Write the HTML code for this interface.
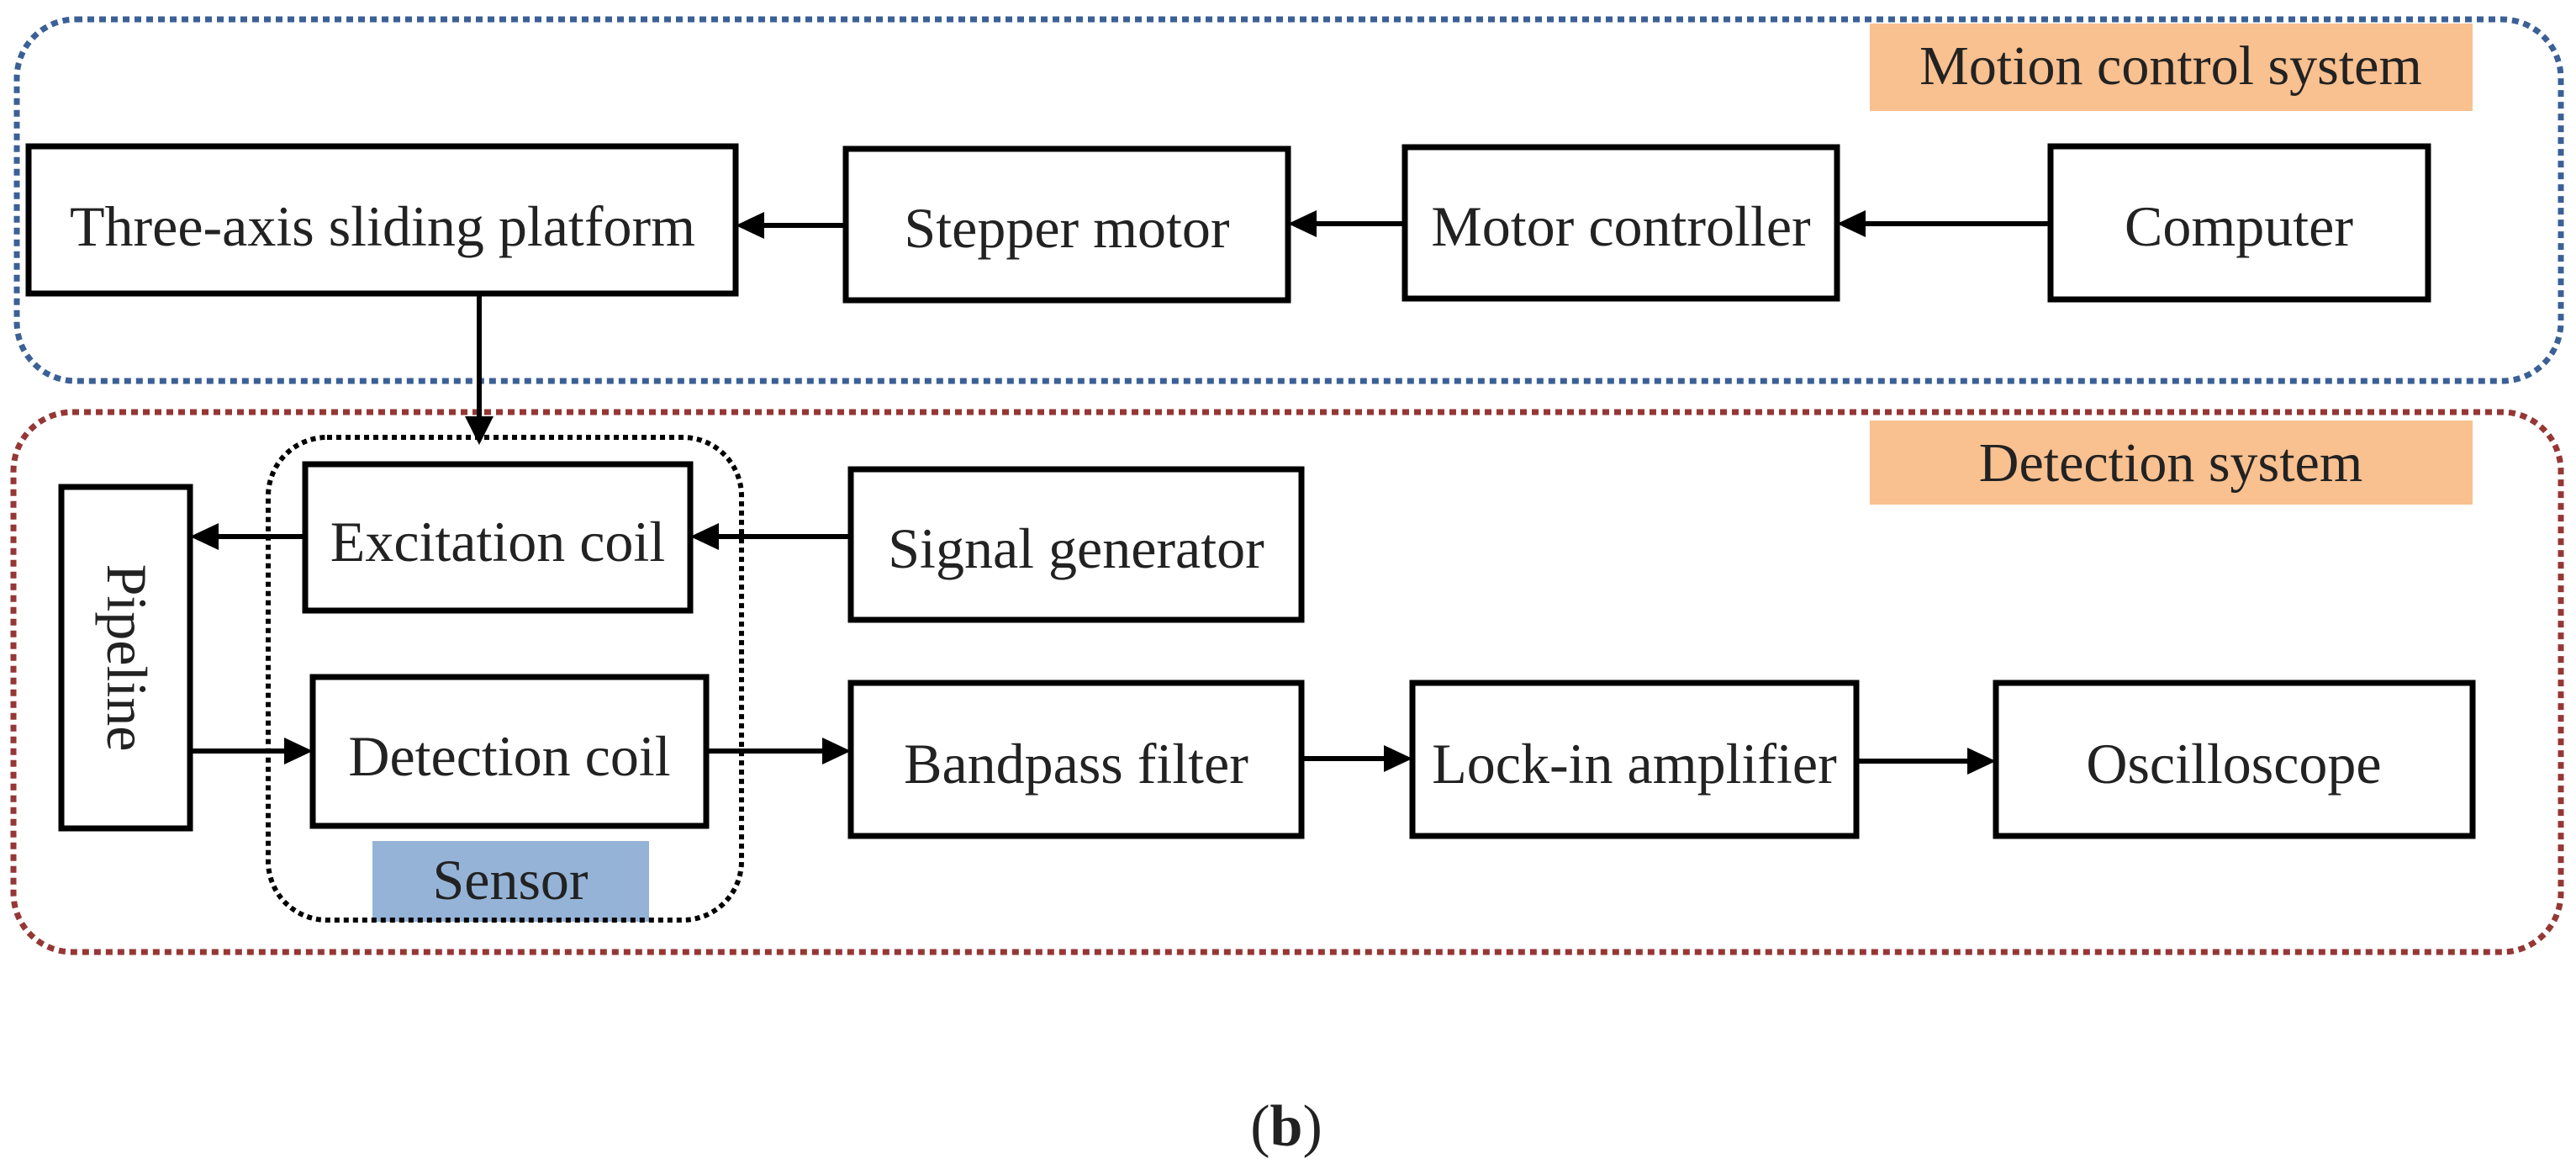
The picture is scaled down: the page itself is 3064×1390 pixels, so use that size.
<!DOCTYPE html>
<html><head><meta charset="utf-8"><style>
html,body{margin:0;padding:0;background:#fff}
svg{display:block}
text{font-family:"Liberation Serif",serif;fill:#222}
</style></head><body>
<svg width="3064" height="1390" viewBox="0 0 3064 1390" xmlns="http://www.w3.org/2000/svg">
<!-- group frames -->
<rect x="20" y="23" width="3026" height="430" rx="70" fill="none" stroke="#3b6096" stroke-width="7" stroke-dasharray="8 6"/>
<rect x="16" y="490" width="3030" height="642" rx="70" fill="none" stroke="#953735" stroke-width="7" stroke-dasharray="8 6"/>
<rect x="2224" y="28" width="717" height="104" fill="#f9c090"/>
<text x="2582" y="100" font-size="66" text-anchor="middle">Motion control system</text>
<rect x="2224" y="500" width="717" height="100" fill="#f9c090"/>
<text x="2582" y="572" font-size="66" text-anchor="middle">Detection system</text>

<g fill="none" stroke="#000" stroke-width="7">
<rect x="34" y="174" width="841" height="175"/>
<rect x="1006" y="177" width="526" height="180"/>
<rect x="1671" y="175" width="514" height="180"/>
<rect x="2439" y="174" width="449" height="182"/>
<rect x="363" y="552" width="458" height="174"/>
<rect x="1012" y="558" width="536" height="179"/>
<rect x="73" y="579" width="153" height="406"/>
<rect x="372" y="805" width="468" height="177"/>
<rect x="1012" y="812" width="536" height="182"/>
<rect x="1680" y="812" width="528" height="182"/>
<rect x="2374" y="812" width="567" height="182"/>
</g>
<rect x="443" y="1000" width="329" height="96" fill="#95b3d7"/>
<rect x="319" y="520" width="563" height="574" rx="70" fill="none" stroke="#000" stroke-width="6" stroke-dasharray="6 5"/>

<g stroke="#000" stroke-width="6" fill="none">
<line x1="1006" y1="268" x2="890" y2="268"/>
<path d="M875,268 l34,-16 v32 z" fill="#000" stroke="none"/>
<line x1="1671" y1="266" x2="1545" y2="266"/>
<path d="M1532,266 l34,-16 v32 z" fill="#000" stroke="none"/>
<line x1="2439" y1="266" x2="2200" y2="266"/>
<path d="M2185,266 l34,-16 v32 z" fill="#000" stroke="none"/>
<line x1="570" y1="349" x2="570" y2="500"/>
<path d="M570,529 l-17,-34 h34 z" fill="#000" stroke="none"/>
<line x1="363" y1="638" x2="240" y2="638"/>
<path d="M226,638 l34,-16 v32 z" fill="#000" stroke="none"/>
<line x1="1012" y1="638" x2="835" y2="638"/>
<path d="M821,638 l34,-16 v32 z" fill="#000" stroke="none"/>
<line x1="226" y1="893" x2="345" y2="893"/>
<path d="M372,893 l-34,-16 v32 z" fill="#000" stroke="none"/>
<line x1="840" y1="893" x2="990" y2="893"/>
<path d="M1012,893 l-34,-16 v32 z" fill="#000" stroke="none"/>
<line x1="1548" y1="902" x2="1655" y2="902"/>
<path d="M1680,902 l-34,-16 v32 z" fill="#000" stroke="none"/>
<line x1="2208" y1="905" x2="2350" y2="905"/>
<path d="M2374,905 l-34,-16 v32 z" fill="#000" stroke="none"/>
</g>

<g font-size="68" text-anchor="middle">
<text x="455" y="292">Three-axis sliding platform</text>
<text x="1269" y="294">Stepper motor</text>
<text x="1928" y="292">Motor controller</text>
<text x="2663" y="292">Computer</text>
<text x="592" y="667">Excitation coil</text>
<text x="1280" y="675">Signal generator</text>
<text x="606" y="922">Detection coil</text>
<text x="1280" y="931">Bandpass filter</text>
<text x="1944" y="931">Lock-in amplifier</text>
<text x="2657" y="931">Oscilloscope</text>
<text x="607" y="1069">Sensor</text>
<text transform="translate(128,782) rotate(90)" x="0" y="0">Pipeline</text>
</g>
<text x="1530" y="1362" font-size="70" text-anchor="middle" fill="#000">(<tspan font-weight="bold">b</tspan>)</text>
</svg>
</body></html>
